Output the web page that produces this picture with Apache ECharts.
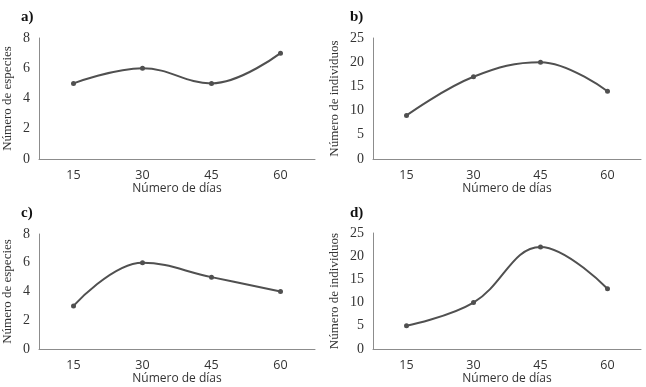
<!DOCTYPE html>
<html>
<head>
<meta charset="utf-8">
<script src="https://cdn.jsdelivr.net/npm/echarts@6/dist/echarts.min.js"></script>
<style>
html, body { margin: 0; padding: 0; background: #fff; }
#chart { width: 646px; height: 387px; }
</style>
</head>
<body>
<div id="chart"></div>
<script>
var dias = ['15', '30', '45', '60'];
var especiesA = [5, 6, 5, 7];
var individuosB = [9, 17, 20, 14];
var especiesC = [3, 6, 5, 4];
var individuosD = [5, 10, 22, 13];

var lineColor = '#505050';
var axisColor = '#8c8c8c';
var serif = '"Liberation Serif", "DejaVu Serif", serif';
var sans = '"Open Sans", "Liberation Sans", sans-serif';

var grids = [
    {left: 39, top: 38, width: 276, height: 121},
    {left: 373, top: 38, width: 268, height: 121},
    {left: 39, top: 234, width: 276, height: 115},
    {left: 373, top: 233, width: 268, height: 116}
];

function xAxis(i) {
    return {
        type: 'category',
        gridIndex: i,
        data: dias,
        boundaryGap: true,
        name: 'Número de días',
        nameLocation: 'middle',
        nameGap: 24,
        nameTextStyle: {fontFamily: sans, fontSize: 12, color: '#333'},
        axisLine: {lineStyle: {color: axisColor, width: 1}},
        axisTick: {show: false},
        axisLabel: {fontFamily: sans, fontSize: 12.5, color: '#333', margin: 10}
    };
}

function yAxis(i, max, interval, name, gap) {
    return {
        type: 'value',
        gridIndex: i,
        min: 0,
        max: max,
        interval: interval,
        name: name,
        nameLocation: 'middle',
        nameGap: gap,
        nameTextStyle: {fontFamily: serif, fontSize: 13, color: '#333'},
        axisLine: {show: true, lineStyle: {color: axisColor, width: 1}},
        axisTick: {show: false},
        splitLine: {show: false},
        axisLabel: {fontFamily: serif, fontSize: 14, color: '#333', margin: 9}
    };
}

function serie(i, data) {
    return {
        type: 'line',
        xAxisIndex: i,
        yAxisIndex: i,
        data: data,
        smooth: 0.4,
        symbol: 'circle',
        symbolSize: 5,
        lineStyle: {color: lineColor, width: 2},
        itemStyle: {color: lineColor}
    };
}

function label(text, left, top) {
    return {
        text: text,
        left: left,
        top: top,
        textStyle: {fontFamily: serif, fontSize: 15, fontWeight: 'bold', color: '#111'}
    };
}

var myChart = echarts.init(document.getElementById('chart'));
myChart.setOption({
    animation: false,
    title: [
        label('a)', 16, 5),
        label('b)', 345, 5),
        label('c)', 16, 201),
        label('d)', 345, 201)
    ],
    grid: grids,
    xAxis: [xAxis(0), xAxis(1), xAxis(2), xAxis(3)],
    yAxis: [
        yAxis(0, 8, 2, 'Número de especies', 25),
        yAxis(1, 25, 5, 'Número de individuos', 32),
        yAxis(2, 8, 2, 'Número de especies', 25),
        yAxis(3, 25, 5, 'Número de individuos', 32)
    ],
    series: [
        serie(0, especiesA),
        serie(1, individuosB),
        serie(2, especiesC),
        serie(3, individuosD)
    ]
});
</script>
</body>
</html>
